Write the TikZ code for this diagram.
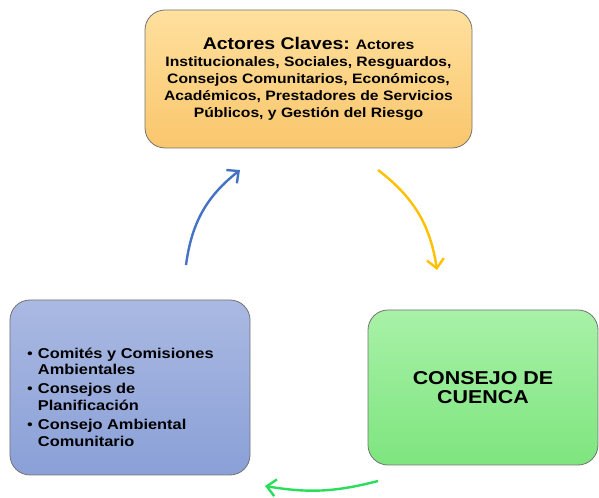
\documentclass[tikz,border=0pt]{standalone}
\usepackage{fontspec}
\setmainfont[FakeStretch=1.15]{Liberation Sans}
\usetikzlibrary{positioning,arrows.meta}

\definecolor{orangeTop}{RGB}{255,224,158}
\definecolor{orangeBot}{RGB}{249,198,108}
\definecolor{blueTop}{RGB}{170,185,226}
\definecolor{blueBot}{RGB}{138,160,215}
\definecolor{greenTop}{RGB}{168,241,168}
\definecolor{greenBot}{RGB}{126,229,126}
\definecolor{arrowBlue}{RGB}{68,114,196}
\definecolor{arrowYellow}{RGB}{255,192,0}
\definecolor{arrowGreen}{RGB}{40,222,90}

\begin{document}
\begin{tikzpicture}[x=1bp,y=1bp]
  \tikzset{BoxStyle/.style = {
    shape           = rectangle,
    rounded corners = 20bp,
    draw            = black!55,
    line width      = 0.8bp,
    text            = black,
    inner sep       = 0pt,
    outer sep       = 0pt,
    font            = \bfseries
    }
  }
  \tikzset{ArrowStyle/.style = {
    line width      = 2.4bp,
    -{Straight Barb[length=9bp,width=17bp,line width=2.4bp]},
    bend left       = 22
    }
  }
  \useasboundingbox (0,0) rectangle (599,498);

	\node[BoxStyle, minimum width=327bp, minimum height=138bp,
	  top color=orangeTop, bottom color=orangeBot, align=center,
	  font=\bfseries\fontsize{13.7}{17}\selectfont](Actores) at (308.5,419)
	  {{\fontsize{17}{17}\selectfont Actores Claves:} Actores\\
	   Institucionales, Sociales, Resguardos,\\
	   Consejos Comunitarios, Económicos,\\
	   Académicos, Prestadores de Servicios\\
	   Públicos, y Gestión del Riesgo};
	\node[BoxStyle, minimum width=230bp, minimum height=155bp,
	  top color=greenTop, bottom color=greenBot, align=center,
	  font=\bfseries\fontsize{18.7}{19}\selectfont](Consejo) at (483,110.5)
	  {CONSEJO DE\\CUENCA};
	\node[BoxStyle, minimum width=240bp, minimum height=175bp,
	  top color=blueTop, bottom color=blueBot](Comites) at (130,110.5) {};

	\node[anchor=north west, inner sep=0pt, font=\bfseries\fontsize{14.3}{17}\selectfont]
	  (Lista) at ([shift={(17,-46)}]Comites.north west)
	  {\begin{tabular}{@{}l@{\hspace{5bp}}l@{}}
	   {\mdseries\textbullet} & Comités y Comisiones\\
	                          & Ambientales\\[2bp]
	   {\mdseries\textbullet} & Consejos de\\
	                          & Planificación\\[2bp]
	   {\mdseries\textbullet} & Consejo Ambiental\\
	                          & Comunitario
	   \end{tabular}};

	\coordinate (B1) at (186,233);
	\coordinate (B2) at (240,328);
	\coordinate (Y1) at (378,328);
	\coordinate (Y2) at (437,228);
	\coordinate (G1) at (378,17);
	\coordinate (G2) at (265,12);
	\draw[ArrowStyle, arrowBlue](B1) to (B2);
	\draw[ArrowStyle, arrowYellow](Y1) to (Y2);
	\draw[ArrowStyle, arrowGreen, bend left=12](G1) to (G2);

  \end{tikzpicture}
\end{document}
